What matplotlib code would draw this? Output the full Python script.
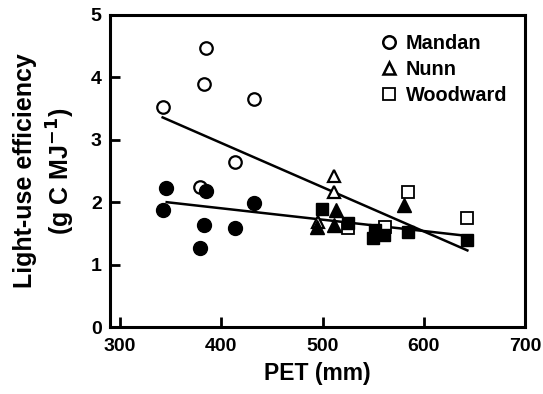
import matplotlib
matplotlib.use("Agg")
import matplotlib.pyplot as plt
import numpy as np
from matplotlib.lines import Line2D

plt.rcParams['font.family'] = ['Liberation Sans', 'DejaVu Sans']
plt.rcParams['font.weight'] = 'bold'
plt.rcParams['mathtext.default'] = 'bf'

# Mandan
mandan_open_x = [342, 384.5, 382.5, 432, 413, 378.5]
mandan_open_y = [3.53, 4.47, 3.89, 3.65, 2.64, 2.25]
mandan_fill_x = [345.5, 342.3, 385, 432, 382.5, 413, 378.5]
mandan_fill_y = [2.22, 1.875, 2.18, 1.98, 1.63, 1.58, 1.26]
# Nunn
nunn_open_x = [511, 511, 495]
nunn_open_y = [2.42, 2.17, 1.68]
nunn_fill_x = [513, 494, 511, 580.5]
nunn_fill_y = [1.87, 1.61, 1.63, 1.96]
# Woodward
wood_open_x = [584.5, 643, 525, 562]
wood_open_y = [2.17, 1.74, 1.58, 1.60]
wood_fill_x = [499, 525, 550, 552, 561, 584, 643]
wood_fill_y = [1.89, 1.67, 1.42, 1.55, 1.48, 1.53, 1.39]

# regression lines (slope, intercept) and x-range
open_fit = [-0.00708, 5.78]
fill_fit = [-0.00182, 2.63]
fit_x_open = [342, 643]
fit_x_fill = [346, 643]

fig = plt.figure(figsize=(5.43, 3.94), dpi=100)
ax = fig.add_axes([0.2026, 0.170, 0.7644, 0.792])

ms = 9
mew = 1.6
lw_line = 1.8

ax.plot(fit_x_open, np.polyval(open_fit, fit_x_open), color='black', lw=lw_line, zorder=2)
ax.plot(fit_x_fill, np.polyval(fill_fit, fit_x_fill), color='black', lw=lw_line, zorder=2)

ax.plot(mandan_open_x, mandan_open_y, 'o', ms=ms, mfc='white', mec='black', mew=mew, ls='none', zorder=3)
ax.plot(nunn_open_x, nunn_open_y, '^', ms=ms, mfc='white', mec='black', mew=mew, ls='none', zorder=3)
ax.plot(wood_open_x, wood_open_y, 's', ms=ms - 0.5, mfc='white', mec='black', mew=mew - 0.3, ls='none', zorder=3)
ax.plot(mandan_fill_x, mandan_fill_y, 'o', ms=ms + 1, mfc='black', mec='black', ls='none', zorder=4)
ax.plot(nunn_fill_x, nunn_fill_y, '^', ms=ms + 1, mfc='black', mec='black', ls='none', zorder=4)
ax.plot(wood_fill_x, wood_fill_y, 's', ms=ms, mfc='black', mec='black', ls='none', zorder=4)

ax.set_xlim(290, 700)
ax.set_ylim(0, 5)
ax.set_xticks([300, 400, 500, 600, 700])
ax.set_yticks([0, 1, 2, 3, 4, 5])
ax.tick_params(direction='in', length=7, width=2, labelsize=14)
ax.tick_params(axis='x', pad=8)
ax.tick_params(axis='y', pad=6)
for lbl in ax.get_xticklabels() + ax.get_yticklabels():
    lbl.set_fontweight('bold')
for sp in ax.spines.values():
    sp.set_linewidth(2.2)

ax.set_xlabel('PET (mm)', fontsize=16.5, fontweight='bold', labelpad=5)
ax.set_ylabel('Light-use efficiency\n(g C MJ$^{\\mathbf{-1}}$)', fontsize=18,
              fontweight='bold', labelpad=10, linespacing=1.3)

handles = [
    Line2D([], [], marker='o', ls='none', ms=9, mfc='white', mec='black', mew=1.8, label='Mandan'),
    Line2D([], [], marker='^', ls='none', ms=9, mfc='white', mec='black', mew=1.8, label='Nunn'),
    Line2D([], [], marker='s', ls='none', ms=8.5, mfc='white', mec='black', mew=1.3, label='Woodward'),
]
leg = ax.legend(handles=handles, loc='upper left', bbox_to_anchor=(0.62, 0.985), frameon=False,
                prop={'weight': 'bold', 'size': 14.3}, handlelength=0.8, handletextpad=0.45,
                labelspacing=0.36, borderaxespad=0.3)

fig.savefig('out.png', dpi=100)
